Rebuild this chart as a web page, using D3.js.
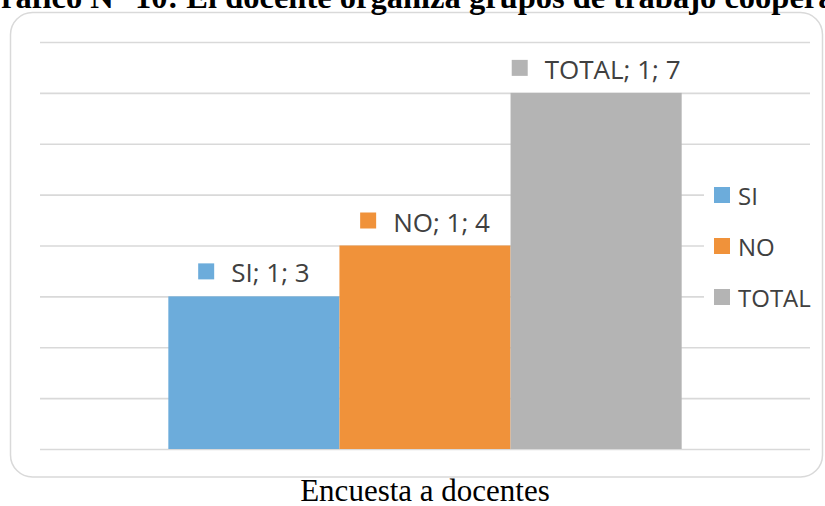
<!DOCTYPE html>
<html>
<head>
<meta charset="utf-8">
<script src="https://cdn.jsdelivr.net/npm/d3@7"></script>
<style>
  html, body { margin: 0; padding: 0; background: #fff; overflow: hidden; }
  svg { display: block; }
</style>
</head>
<body>
<svg id="chart" width="825" height="506"></svg>
<script>
// Survey data: one category, three series
const categories = ["1"];
const seriesNames = ["SI", "NO", "TOTAL"];
const seriesValues = [3, 4, 7];
const seriesColors = ["#6cacdb", "#f0923a", "#b4b4b4"];
const yTicks = [0, 1, 2, 3, 4, 5, 6, 7, 8];
const titleText = "Gráfico N° 10: El docente organiza grupos de trabajo cooperativo";
const captionText = "Encuesta a docentes";

const svg = d3.select("#chart");
const sans = "'Open Sans', 'DejaVu Sans', sans-serif";
const serif = "'Liberation Serif', 'Times New Roman', serif";

// Chart frame
svg.append("rect")
  .attr("x", 10.5).attr("y", 12.5)
  .attr("width", 812).attr("height", 464.5)
  .attr("rx", 22).attr("ry", 22)
  .attr("fill", "#fff")
  .attr("stroke", "#d9d9d9")
  .attr("stroke-width", 1.5);

// Title (wider than the page, clipped at both sides)
const title = svg.append("text")
  .attr("y", 8)
  .attr("font-family", serif)
  .attr("font-weight", "bold")
  .attr("font-size", 32.5)
  .attr("fill", "#000")
  .text(titleText);
const gW = title.node().getSubStringLength(0, 1);
title.attr("x", -gW + 1);

// Scales
const plot = { left: 40, right: 810, top: 42, bottom: 449 };
const x0 = d3.scaleBand().domain(categories)
  .range([plot.left, plot.right]).paddingInner(0).paddingOuter(0.25);
const x1 = d3.scaleBand().domain(seriesNames)
  .range([0, x0.bandwidth()]).padding(0);
const y = d3.scaleLinear().domain([0, 8]).range([plot.bottom, plot.top]);

// Horizontal gridlines
svg.append("g")
  .attr("transform", `translate(${plot.left},0)`)
  .call(d3.axisLeft(y).tickValues(yTicks).tickSize(-(plot.right - plot.left)).tickFormat(""))
  .call(g => g.select(".domain").remove())
  .call(g => g.selectAll(".tick line").attr("stroke", "#d9d9d9").attr("stroke-width", 1.6));

// Bars
const data = seriesNames.map((s, i) => ({ series: s, cat: categories[0], value: seriesValues[i], color: seriesColors[i] }));
svg.append("g").selectAll("rect").data(data).join("rect")
  .attr("x", d => x0(d.cat) + x1(d.series))
  .attr("width", x1.bandwidth())
  .attr("y", d => y(d.value))
  .attr("height", d => y(0) - y(d.value))
  .attr("fill", d => d.color);

// Data labels: marker + "series; category; value", centred over each bar
const labelSize = 26, legendSize = 24, sq = 16, gap = 17;
svg.append("g").selectAll("g").data(data).join("g").each(function(d) {
  const g = d3.select(this);
  const t = g.append("text")
    .attr("font-family", sans).attr("font-size", labelSize).attr("fill", "#404040")
    .text(`${d.series}; ${d.cat}; ${d.value}`);
  const tw = t.node().getComputedTextLength();
  const total = sq + gap + tw;
  const cx = x0(d.cat) + x1(d.series) + x1.bandwidth() / 2;
  const base = y(d.value) - 14;
  const left = cx - total / 2;
  g.append("rect")
    .attr("x", left).attr("y", base - 19)
    .attr("width", sq).attr("height", sq)
    .attr("fill", d.color);
  t.attr("x", left + sq + gap).attr("y", base);
});

// Legend
const legend = svg.append("g");
legend.append("rect")
  .attr("x", 704).attr("y", 172).attr("width", 108).attr("height", 150)
  .attr("fill", "#fff");
const li = legend.selectAll("g").data(data).join("g")
  .attr("transform", (d, i) => `translate(714, ${205 + i * 51})`);
li.append("rect").attr("x", 0).attr("y", -18).attr("width", sq).attr("height", sq)
  .attr("fill", d => d.color);
li.append("text").attr("x", 24).attr("y", 0)
  .attr("font-family", sans).attr("font-size", legendSize).attr("fill", "#404040")
  .text(d => d.series);

// Caption
svg.append("text")
  .attr("x", 425).attr("y", 501)
  .attr("text-anchor", "middle")
  .attr("font-family", serif)
  .attr("font-size", 31)
  .attr("fill", "#000")
  .text(captionText);
</script>
</body>
</html>
